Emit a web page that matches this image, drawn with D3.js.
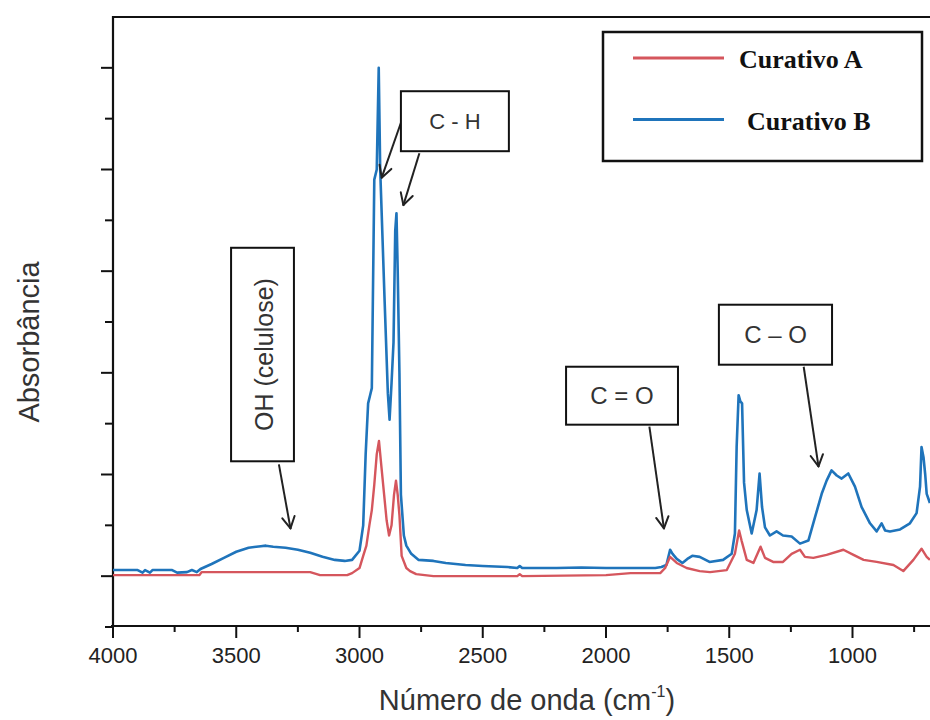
<!DOCTYPE html>
<html>
<head>
<meta charset="utf-8">
<script src="https://cdn.jsdelivr.net/npm/d3@7"></script>
<style>
  html, body { margin: 0; padding: 0; background: #fff; }
  svg { display: block; }
</style>
</head>
<body>
<svg id="chart" width="930" height="720"></svg>
<script>
// ---------------- DATA ----------------
const seriesNames = ["Curativo A", "Curativo B"];

const wavenumberA = [4000, 3650, 3640, 3200, 3160, 3050, 3030, 3000, 2985, 2972, 2960, 2950, 2940, 2930, 2921, 2912, 2900, 2890, 2880, 2870, 2860, 2852, 2845, 2838, 2829, 2810, 2795, 2770, 2700, 2360, 2350, 2340, 2000, 1900, 1780, 1760, 1740, 1713, 1673, 1620, 1578, 1510, 1477, 1460, 1450, 1429, 1402, 1373, 1355, 1322, 1282, 1247, 1213, 1193, 1159, 1105, 1037, 996, 955, 902, 834, 794, 753, 720, 699, 686];
const absorbanceA = [0.01, 0.01, 0.04, 0.04, 0.01, 0.01, 0.03, 0.08, 0.2, 0.3, 0.5, 0.65, 0.9, 1.2, 1.33, 1.1, 0.8, 0.55, 0.4, 0.5, 0.8, 0.94, 0.8, 0.6, 0.2, 0.08, 0.05, 0.02, 0.0, 0.0, 0.02, 0.0, 0.01, 0.03, 0.03, 0.08, 0.19, 0.13, 0.08, 0.05, 0.04, 0.06, 0.22, 0.45, 0.35, 0.16, 0.13, 0.29, 0.18, 0.14, 0.14, 0.22, 0.26, 0.19, 0.18, 0.21, 0.26, 0.21, 0.16, 0.14, 0.11, 0.05, 0.16, 0.27, 0.19, 0.16];

const wavenumberB = [4000, 3950, 3900, 3880, 3870, 3850, 3840, 3760, 3740, 3700, 3680, 3660, 3645, 3600, 3550, 3500, 3450, 3400, 3380, 3350, 3300, 3250, 3200, 3150, 3100, 3060, 3030, 3000, 2985, 2975, 2965, 2957, 2950, 2940, 2930, 2922, 2916, 2898, 2885, 2878, 2870, 2862, 2855, 2850, 2845, 2838, 2832, 2820, 2810, 2790, 2760, 2700, 2650, 2570, 2500, 2400, 2360, 2350, 2340, 2200, 2100, 2000, 1900, 1800, 1775, 1755, 1740, 1730, 1713, 1690, 1670, 1650, 1620, 1580, 1525, 1490, 1477, 1470, 1462, 1455, 1448, 1440, 1429, 1409, 1389, 1377, 1367, 1355, 1335, 1308, 1282, 1247, 1213, 1179, 1152, 1125, 1105, 1085, 1064, 1044, 1017, 990, 963, 929, 902, 882, 868, 848, 807, 767, 740, 726, 720, 712, 705, 699, 686];
const absorbanceB = [0.06, 0.06, 0.06, 0.035, 0.06, 0.035, 0.06, 0.06, 0.035, 0.04, 0.06, 0.04, 0.07, 0.12, 0.18, 0.24, 0.28, 0.295, 0.3, 0.29, 0.28, 0.26, 0.23, 0.19, 0.16, 0.15, 0.16, 0.25, 0.5, 1.2, 1.7, 1.78, 1.85, 3.9, 4.0, 5.0, 4.0, 2.7, 1.8, 1.54, 1.9, 2.3, 3.4, 3.57, 3.0, 2.0, 0.8, 0.4, 0.3, 0.22, 0.16, 0.15, 0.13, 0.11, 0.1, 0.09, 0.08, 0.1, 0.08, 0.08, 0.085, 0.08, 0.08, 0.08, 0.09, 0.11, 0.26, 0.22, 0.17, 0.13, 0.17, 0.2, 0.19, 0.14, 0.16, 0.22, 0.42, 1.27, 1.78, 1.72, 1.7, 0.92, 0.65, 0.42, 0.65, 1.01, 0.68, 0.48, 0.4, 0.44, 0.4, 0.39, 0.32, 0.35, 0.58, 0.81, 0.94, 1.04, 0.99, 0.96, 1.01, 0.88, 0.68, 0.52, 0.44, 0.52, 0.45, 0.44, 0.46, 0.52, 0.62, 0.88, 1.27, 1.17, 1.0, 0.81, 0.72];

const xMajorTicks = [4000, 3500, 3000, 2500, 2000, 1500, 1000];
const xMinorTicks = [3750, 3250, 2750, 2250, 1750, 1250, 750];
const yMajorTicks = [0, 1, 2, 3, 4, 5];
const yMinorTicks = [-0.5, 0.5, 1.5, 2.5, 3.5, 4.5];

// annotations in data coordinates (wavenumber, absorbance)
const annotationLabels = ["OH (celulose)", "C - H", "C = O", "C \u2013 O"];
const annotationBoxes = [ // [wnLeft, wnRight, valTop, valBottom]
  [3521, 3266, 3.23, 1.13],
  [2832, 2394, 4.77, 4.18],
  [2162, 1708, 2.06, 1.49],
  [1542, 1083, 2.67, 2.08]
];
const annotationArrows = [ // [wnFrom, valFrom, wnTo, valTo]
  [3327, 1.10, 3280, 0.47],
  [2832, 4.46, 2910, 3.92],
  [2757, 4.16, 2822, 3.65],
  [1824, 1.47, 1765, 0.47],
  [1198, 2.06, 1138, 1.08]
];

// ---------------- LAYOUT ----------------
const svg = d3.select("#chart");
const plotLeft = 113, plotTop = 17, plotBottom = 626;
const x = d3.scaleLinear().domain([4000, 400]).range([plotLeft, plotLeft + 3600 * 0.2465]);
const y = d3.scaleLinear().domain([-0.5, 5.5]).range([627, 17]);
const colors = ["#d5565d", "#1f74bb"];

const font = "'Liberation Sans', Arial, sans-serif";

// plot frame: top and left, bottom axis
svg.append("line").attr("x1", plotLeft).attr("x2", 930).attr("y1", plotTop).attr("y2", plotTop)
  .attr("stroke", "#111").attr("stroke-width", 2);
svg.append("line").attr("x1", plotLeft).attr("x2", plotLeft).attr("y1", plotTop - 1).attr("y2", plotBottom + 1)
  .attr("stroke", "#111").attr("stroke-width", 2.2);
svg.append("line").attr("x1", plotLeft - 2).attr("x2", 930).attr("y1", plotBottom).attr("y2", plotBottom)
  .attr("stroke", "#111").attr("stroke-width", 2.2);

// x ticks
const gx = svg.append("g");
gx.selectAll("line.maj").data(xMajorTicks).join("line").attr("class", "maj")
  .attr("x1", d => x(d)).attr("x2", d => x(d)).attr("y1", plotBottom).attr("y2", plotBottom + 12)
  .attr("stroke", "#111").attr("stroke-width", 2);
gx.selectAll("line.min").data(xMinorTicks).join("line").attr("class", "min")
  .attr("x1", d => x(d)).attr("x2", d => x(d)).attr("y1", plotBottom).attr("y2", plotBottom + 6)
  .attr("stroke", "#111").attr("stroke-width", 2);
gx.selectAll("text").data(xMajorTicks).join("text")
  .attr("x", d => x(d)).attr("y", 663)
  .attr("text-anchor", "middle").attr("font-family", font).attr("font-size", 22)
  .attr("fill", "#222").text(d => d);

// y ticks (no labels)
const gy = svg.append("g");
gy.selectAll("line.maj").data(yMajorTicks).join("line").attr("class", "maj")
  .attr("x1", plotLeft - 12).attr("x2", plotLeft).attr("y1", d => y(d)).attr("y2", d => y(d))
  .attr("stroke", "#111").attr("stroke-width", 2);
gy.selectAll("line.min").data(yMinorTicks).join("line").attr("class", "min")
  .attr("x1", plotLeft - 8).attr("x2", plotLeft).attr("y1", d => y(d)).attr("y2", d => y(d))
  .attr("stroke", "#111").attr("stroke-width", 2);

// axis titles
svg.append("text").attr("transform", "translate(39,342) rotate(-90)")
  .attr("text-anchor", "middle").attr("font-family", font).attr("font-size", 29)
  .attr("fill", "#333").text("Absorbância");
const xt = svg.append("text").attr("x", 527).attr("y", 710)
  .attr("text-anchor", "middle").attr("font-family", font).attr("font-size", 29).attr("fill", "#333");
xt.append("tspan").text("Número de onda (cm");
xt.append("tspan").attr("font-size", 16).attr("dy", -13).text("-1");
xt.append("tspan").attr("dy", 13).text(")");

// spectra
const line = d3.line().x(d => x(d[0])).y(d => y(d[1]));
const dataA = wavenumberA.map((w, i) => [w, absorbanceA[i]]);
const dataB = wavenumberB.map((w, i) => [w, absorbanceB[i]]);
svg.append("path").datum(dataB).attr("d", line).attr("fill", "none")
  .attr("stroke", colors[1]).attr("stroke-width", 2.6).attr("stroke-linejoin", "round");
svg.append("path").datum(dataA).attr("d", line).attr("fill", "none")
  .attr("stroke", colors[0]).attr("stroke-width", 2.4).attr("stroke-linejoin", "round");

// annotation arrows
function arrow(g, x1, y1, x2, y2) {
  g.append("line").attr("x1", x1).attr("y1", y1).attr("x2", x2).attr("y2", y2)
    .attr("stroke", "#222").attr("stroke-width", 2);
  const ang = Math.atan2(y2 - y1, x2 - x1);
  const L = 13, spread = 0.5;
  [ang + Math.PI - spread, ang + Math.PI + spread].forEach(a => {
    g.append("line").attr("x1", x2).attr("y1", y2)
      .attr("x2", x2 + L * Math.cos(a)).attr("y2", y2 + L * Math.sin(a))
      .attr("stroke", "#222").attr("stroke-width", 2).attr("stroke-linecap", "round");
  });
}
const ga = svg.append("g");
annotationArrows.forEach(a => arrow(ga, x(a[0]), y(a[1]), x(a[2]), y(a[3])));

// annotation boxes
annotationBoxes.forEach((b, i) => {
  const x0 = x(b[0]), x1 = x(b[1]), y0 = y(b[2]), y1 = y(b[3]);
  ga.append("rect").attr("x", x0).attr("y", y0).attr("width", x1 - x0).attr("height", y1 - y0)
    .attr("fill", "#fff").attr("stroke", "#111").attr("stroke-width", 2);
  const cx = (x0 + x1) / 2, cy = (y0 + y1) / 2;
  const t = ga.append("text").attr("text-anchor", "middle").attr("dominant-baseline", "central")
    .attr("font-family", font).attr("fill", "#333").text(annotationLabels[i]);
  if (i === 0) {
    t.attr("transform", `translate(${cx + 1},${cy}) rotate(-90)`).attr("font-size", 25);
  } else {
    t.attr("x", cx).attr("y", cy).attr("font-size", i === 1 ? 22 : 24);
  }
});

// legend
const lg = svg.append("g");
lg.append("rect").attr("x", 603).attr("y", 32).attr("width", 319).attr("height", 129)
  .attr("fill", "#fff").attr("stroke", "#111").attr("stroke-width", 2.5);
const legY = [58, 119.5];
const legTextX = [739, 747];
seriesNames.forEach((n, i) => {
  lg.append("line").attr("x1", 633).attr("x2", 724).attr("y1", legY[i]).attr("y2", legY[i])
    .attr("stroke", colors[i]).attr("stroke-width", 3);
  lg.append("text").attr("x", legTextX[i]).attr("y", legY[i] + 10)
    .attr("font-family", "'Liberation Serif', 'Times New Roman', serif")
    .attr("font-weight", "bold").attr("font-size", 26).attr("fill", "#111").text(n);
});
</script>
</body>
</html>
